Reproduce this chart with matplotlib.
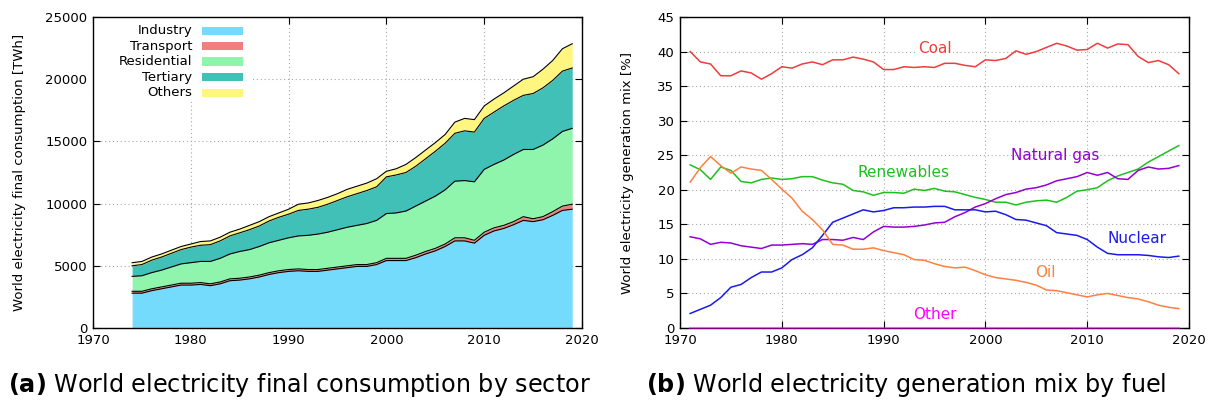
"""World electricity consumption by sector and generation mix by fuel."""

import matplotlib

matplotlib.use("Agg")
import matplotlib.pyplot as plt
from matplotlib.patches import Rectangle

# ---- (a) final consumption by sector, cumulative tops [TWh] ----
years_a = list(range(1974, 2020))
industry_top = [
    2800, 2800, 3000, 3150, 3300, 3450, 3450, 3500, 3400, 3550,
    3800, 3850, 3950, 4100, 4300, 4450, 4550, 4600, 4550, 4550,
    4650, 4750, 4850, 4950, 4950, 5100, 5420, 5420, 5420, 5650,
    5950, 6200, 6550, 7000, 7000, 6820, 7450, 7800, 8000, 8300,
    8650, 8550, 8700, 9050, 9450, 9550,
]
transport_top = [
    2950, 2950, 3150, 3300, 3450, 3600, 3600, 3650, 3550, 3700,
    3950, 4000, 4100, 4250, 4450, 4600, 4700, 4750, 4700, 4700,
    4800, 4900, 5000, 5100, 5100, 5250, 5600, 5600, 5600, 5850,
    6150, 6400, 6750, 7250, 7250, 7050, 7700, 8050, 8250, 8550,
    8950, 8780, 8950, 9350, 9800, 9950,
]
residential_top = [
    4150, 4200, 4450, 4650, 4900, 5150, 5250, 5350, 5350, 5600,
    5950, 6150, 6300, 6550, 6850, 7050, 7250, 7400, 7450, 7550,
    7700, 7900, 8100, 8250, 8400, 8650, 9200, 9250, 9400, 9800,
    10200, 10600, 11100, 11800, 11850, 11750, 12750, 13150, 13500, 13950,
    14350, 14350, 14700, 15200, 15800, 16050,
]
tertiary_top = [
    5000, 5100, 5450, 5700, 6000, 6300, 6500, 6650, 6700, 7000,
    7400, 7650, 7900, 8200, 8600, 8900, 9150, 9450, 9550, 9700,
    9950, 10250, 10550, 10800, 11050, 11350, 12150, 12300, 12500, 13000,
    13600, 14200, 14850, 15650, 15850, 15750, 16850, 17350, 17850, 18300,
    18700, 18850, 19300, 19900, 20650, 20900,
]
others_top = [
    5250, 5350, 5700, 5950, 6250, 6550, 6750, 6950, 7000, 7300,
    7700, 7950, 8250, 8550, 8950, 9250, 9550, 9950, 10050, 10250,
    10500, 10800, 11150, 11400, 11650, 12000, 12600, 12800, 13150, 13700,
    14300, 14900, 15550, 16550, 16850, 16750, 17850, 18400, 18900, 19450,
    20000, 20200, 20800, 21500, 22450, 22850,
]
sectors = ["Industry", "Transport", "Residential", "Tertiary", "Others"]
sector_colors = ["#74dbfc", "#f08080", "#90f5ac", "#40c0b6", "#fff680"]

# ---- (b) generation mix by fuel [%] ----
years_b = list(range(1971, 2020))
coal = [
    40.0, 38.5, 38.2, 36.5, 36.5, 37.2, 36.9, 36.0, 36.8, 37.8,
    37.6, 38.2, 38.5, 38.1, 38.8, 38.8, 39.2, 38.9, 38.5, 37.4,
    37.4, 37.8, 37.7, 37.8, 37.7, 38.3, 38.3, 38.0, 37.8, 38.8,
    38.7, 39.0, 40.1, 39.6, 40.0, 40.6, 41.2, 40.8, 40.2, 40.3,
    41.2, 40.5, 41.1, 41.0, 39.3, 38.4, 38.7, 38.1, 36.8,
]
oil = [
    21.1, 23.2, 24.8, 23.5, 22.4, 23.3, 23.0, 22.8, 21.5, 20.1,
    18.8, 16.9, 15.7, 14.2, 12.1, 12.0, 11.4, 11.4, 11.6, 11.2,
    10.9, 10.6, 9.9, 9.8, 9.3, 8.9, 8.7, 8.8, 8.3, 7.7,
    7.3, 7.1, 6.9, 6.6, 6.2, 5.5, 5.4, 5.1, 4.8, 4.5,
    4.8, 5.0, 4.7, 4.4, 4.2, 3.8, 3.3, 3.0, 2.8,
]
renewables = [
    23.6, 22.9, 21.5, 23.3, 22.8, 21.2, 21.0, 21.5, 21.7, 21.5,
    21.6, 21.9, 21.9, 21.4, 21.0, 20.8, 19.9, 19.7, 19.2, 19.6,
    19.6, 19.5, 20.1, 19.9, 20.2, 19.8, 19.7, 19.3, 18.9, 18.6,
    18.2, 18.2, 17.8, 18.2, 18.4, 18.5, 18.2, 18.9, 19.8, 20.0,
    20.3, 21.3, 22.0, 22.5, 23.0, 24.0, 24.8, 25.6, 26.4,
]
natural_gas = [
    13.2, 12.9, 12.1, 12.4, 12.3, 11.9, 11.7, 11.5, 12.0, 12.0,
    12.1, 12.2, 12.1, 12.8, 12.8, 12.7, 13.1, 12.8, 13.9, 14.7,
    14.6, 14.6, 14.7, 14.9, 15.2, 15.3, 16.1, 16.7, 17.5, 18.0,
    18.7, 19.3, 19.6, 20.1, 20.3, 20.7, 21.3, 21.6, 21.9, 22.5,
    22.1, 22.5, 21.6, 21.5, 22.8, 23.3, 23.0, 23.1, 23.5,
]
nuclear = [
    2.1, 2.7, 3.3, 4.4, 5.9, 6.3, 7.3, 8.1, 8.1, 8.7,
    9.9, 10.6, 11.6, 13.4, 15.3, 15.9, 16.5, 17.1, 16.8, 17.0,
    17.4, 17.4, 17.5, 17.5, 17.6, 17.6, 17.1, 17.1, 17.1, 16.8,
    16.9, 16.4, 15.7, 15.6, 15.2, 14.8, 13.8, 13.6, 13.4, 12.8,
    11.7, 10.8, 10.6, 10.6, 10.6, 10.5, 10.3, 10.2, 10.4,
]
other = [0.0] * len(years_b)

fuels = [
    # name, series, colour, label x, label y
    ("Coal", coal, "#f03c3c", 1995.0, 40.4),
    ("Renewables", renewables, "#1fbf1f", 1992.0, 22.5),
    ("Natural gas", natural_gas, "#9400d3", 2006.9, 25.0),
    ("Nuclear", nuclear, "#1a1aee", 2014.9, 13.0),
    ("Oil", oil, "#ff8040", 2005.9, 8.0),
    ("Other", other, "#ff00ff", 1995.0, 2.0),
]

GRID = dict(color="#a8a8a8", linestyle=(0, (1, 2.5)), linewidth=0.8)
TICK_FS = 9.5


def style_axes(ax):
    ax.tick_params(direction="in", top=True, right=True, length=5,
                   width=0.8, labelsize=TICK_FS, pad=4)
    for sp in ax.spines.values():
        sp.set_linewidth(1.0)
    ax.grid(True, **GRID)
    ax.set_axisbelow(True)


def plot_consumption(ax):
    tops = [industry_top, transport_top, residential_top, tertiary_top, others_top]
    bottom = [0] * len(years_a)
    for top, color in zip(tops, sector_colors):
        ax.fill_between(years_a, bottom, top, color=color, linewidth=0, zorder=2)
        ax.plot(years_a, top, color="black", linewidth=0.8, zorder=3)
        bottom = top

    ax.set_xlim(1970, 2020)
    ax.set_ylim(0, 25000)
    ax.set_xticks(range(1970, 2021, 10))
    ax.set_yticks(range(0, 25001, 5000))
    style_axes(ax)
    ax.set_ylabel("World electricity final consumption [TWh]", fontsize=9.5,
                  labelpad=14)

    # key box (hides the grid behind it, like gnuplot's opaque key)
    ax.add_patch(Rectangle((0, 0.735), 0.325, 0.265, transform=ax.transAxes,
                           facecolor="white", edgecolor="none", zorder=1))
    rows_y = [0.956, 0.906, 0.857, 0.807, 0.757]
    for name, color, y in zip(sectors, sector_colors, rows_y):
        ax.text(0.203, y, name, transform=ax.transAxes, ha="right",
                va="center", fontsize=9.5, zorder=4)
        ax.add_patch(Rectangle((0.223, y - 0.013), 0.084, 0.026,
                               transform=ax.transAxes, facecolor=color,
                               edgecolor="none", zorder=4))


def plot_mix(ax):
    for name, values, color, lx, ly in fuels:
        if name == "Other":
            # sits on the x axis, blends with the frame
            ax.plot(years_b, values, color=color, linewidth=1.6, zorder=3,
                    alpha=0.5, clip_on=False)
        else:
            ax.plot(years_b, values, color=color, linewidth=1.1, zorder=3)
        bbox = None
        if name == "Coal":
            bbox = dict(facecolor="white", edgecolor="none", pad=1)
        ax.text(lx, ly, name, color=color, fontsize=11, ha="center",
                va="center", zorder=2.2, bbox=bbox)

    ax.set_xlim(1970, 2020)
    ax.set_ylim(0, 45)
    ax.set_xticks(range(1970, 2021, 10))
    ax.set_yticks(range(0, 46, 5))
    style_axes(ax)
    ax.set_ylabel("World electricity generation mix [%]", fontsize=9.5,
                  labelpad=17)


def main():
    fig = plt.figure(figsize=(12.14, 4.05), dpi=100)
    ax_a = fig.add_axes([93 / 1214, 1 - 328 / 405, 489 / 1214, 311 / 405])
    ax_b = fig.add_axes([680 / 1214, 1 - 328 / 405, 509 / 1214, 311 / 405])

    plot_consumption(ax_a)
    plot_mix(ax_b)

    fig.text(299 / 1214, 1 - 385 / 405,
             r"$\mathbf{(a)}$ World electricity final consumption by sector",
             ha="center", va="center", fontsize=17.2)
    fig.text(906 / 1214, 1 - 385 / 405,
             r"$\mathbf{(b)}$ World electricity generation mix by fuel",
             ha="center", va="center", fontsize=17.2)

    fig.savefig("out.png", dpi=100)
    plt.close(fig)


if __name__ == "__main__":
    main()
